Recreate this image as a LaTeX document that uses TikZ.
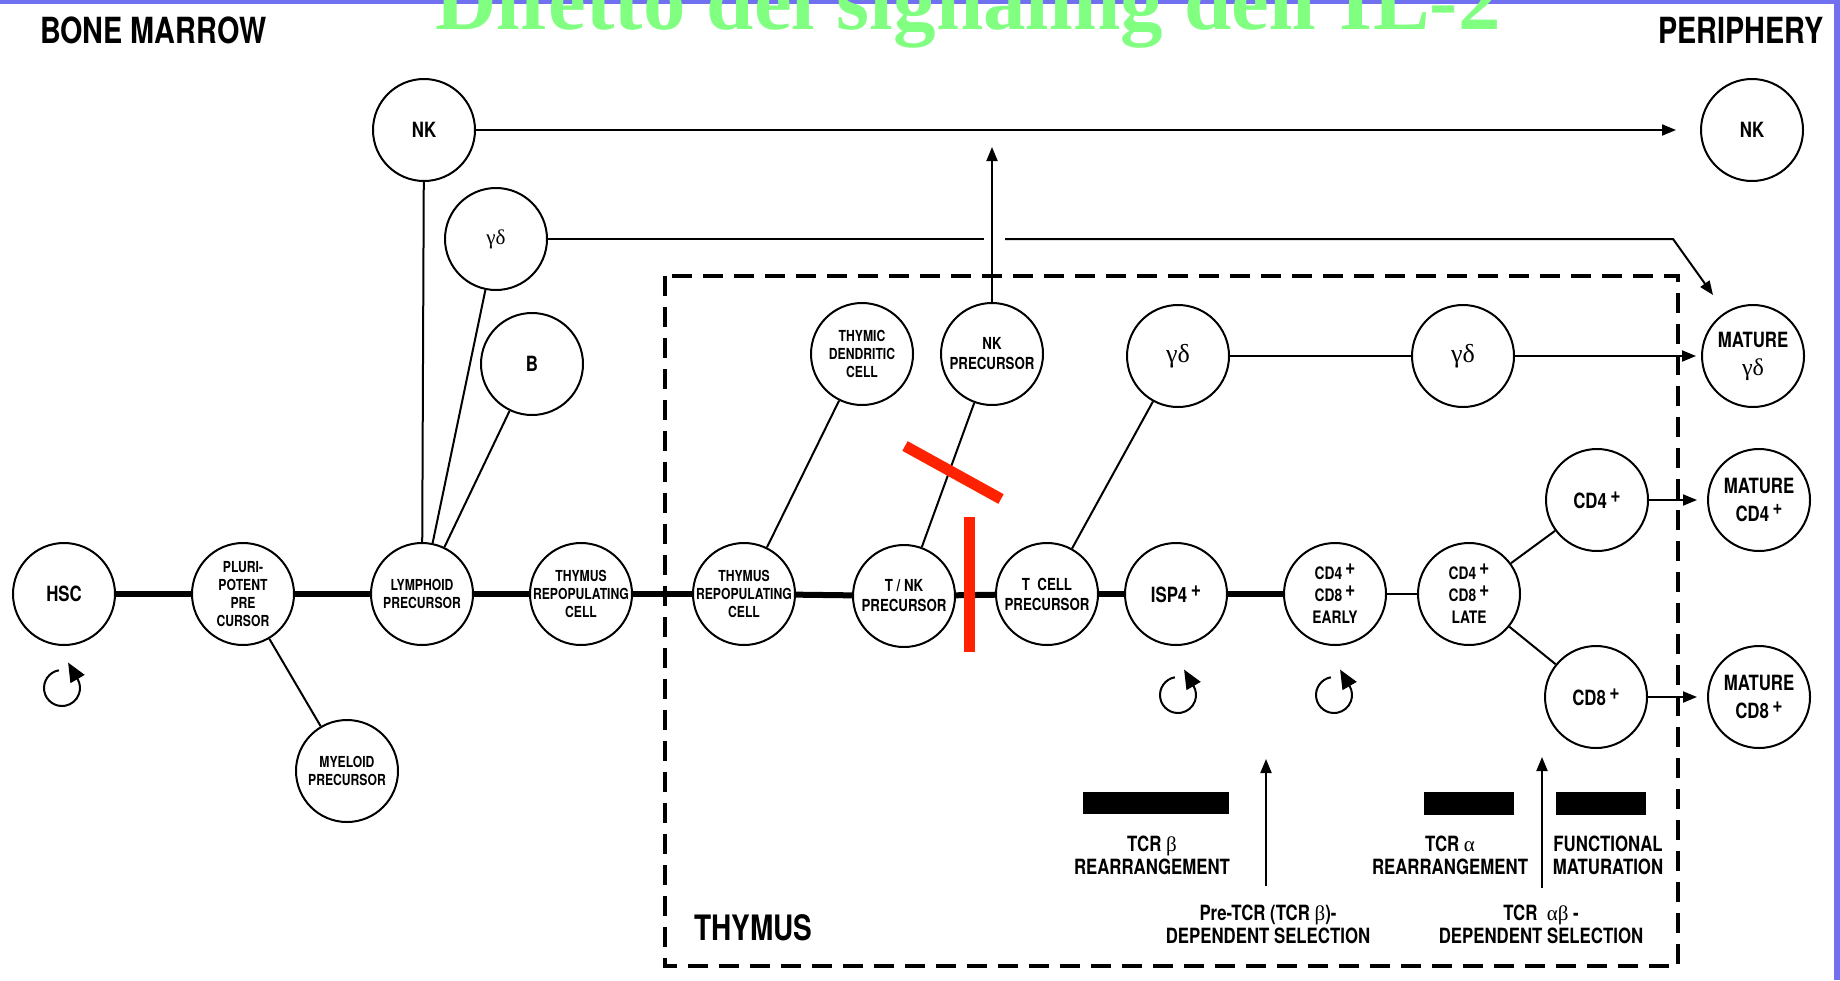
\documentclass[tikz,border=0pt]{standalone}
\usepackage{fontspec}
\setmainfont{TeX Gyre Heros}[FakeStretch=0.8]
\newfontfamily\timesfont{Liberation Serif}
\usetikzlibrary{arrows.meta}
\definecolor{titlegreen}{RGB}{128,255,128}
\definecolor{frameblue}{RGB}{112,112,240}
\definecolor{cutred}{RGB}{255,34,0}
\newcommand{\cellplus}{\,\raisebox{0.6ex}{+}}
\newcommand{\bigplus}{\,\raisebox{0.5ex}{\fontsize{11}{11}\selectfont+}}

\begin{document}
\begin{tikzpicture}[
    x=0.5pt, y=-0.5pt,
    cell/.style={circle, draw, line width=1pt, minimum size=51pt, inner sep=0pt},
    smalltxt/.style={align=center, font=\bfseries\fontsize{7.6}{9}\selectfont},
    medtxt/.style={align=center, font=\bfseries\fontsize{8.3}{10}\selectfont},
    dptxt/.style={align=center, font=\bfseries\fontsize{8.6}{11}\selectfont},
    bigtxt/.style={align=center, font=\bfseries\fontsize{10.5}{14}\selectfont},
    greektxt/.style={font=\timesfont\fontsize{13}{15}\selectfont},
    tagtxt/.style={align=center, font=\bfseries\fontsize{10.5}{11.5}\selectfont},
    trunk/.style={line width=3pt},
    link/.style={line width=1pt},
    arrow/.style={-{Triangle[length=7pt,width=5.5pt]}, line width=1pt},
    selfloop/.style={-{Triangle[length=9.5pt,width=8pt]}, line width=1pt},
    cutbar/.style={cutred, line width=5.5pt},
    thymusbox/.style={line width=2pt, dash pattern=on 10pt off 5.5pt}
]
    \useasboundingbox (0,0) rectangle (1840,980);
    \clip (0,0) rectangle (1840,980);
    \fill[frameblue] (0,0) rectangle (1840,3.5);
    \fill[frameblue] (1834,0) rectangle (1840,980);

    \node[anchor=base, text=titlegreen, font=\timesfont\bfseries\fontsize{42.5}{45}\selectfont] (title) at (968,29) {Difetto del signaling dell'IL-2};
    \node[anchor=base west, font=\bfseries\fontsize{18}{20}\selectfont] (marrow) at (33,43) {BONE MARROW};
    \node[anchor=base east, font=\bfseries\fontsize{18}{20}\selectfont] (periphery) at (1831,43) {PERIPHERY};

    \draw[thymusbox] (665,276) rectangle (1678,966);
    \node[anchor=base west, font=\bfseries\fontsize{17.5}{20}\selectfont] (thymus) at (687,940) {THYMUS};

    \node[cell, label={[bigtxt]center:HSC}] (hsc) at (64,594) {};
    \node[cell, label={[smalltxt]center:PLURI-\\POTENT\\PRE\\CURSOR}] (pluri) at (243,594) {};
    \node[cell, label={[smalltxt]center:LYMPHOID\\PRECURSOR}] (lymph) at (422,594) {};
    \node[cell, label={[smalltxt]center:THYMUS\\REPOPULATING\\CELL}] (thy1) at (581,594) {};
    \node[cell, label={[smalltxt]center:MYELOID\\PRECURSOR}] (myeloid) at (347,771) {};
    \node[cell, label={[bigtxt]center:NK}] (nkbm) at (424,130) {};
    \node[cell, label={[greektxt, font=\timesfont\fontsize{10.5}{12}\selectfont]center:γδ}] (gdbm) at (496,239) {};
    \node[cell, label={[bigtxt]center:B}] (bcell) at (532,364) {};

    \node[cell, label={[smalltxt]center:THYMUS\\REPOPULATING\\CELL}] (thy2) at (744,594) {};
    \node[cell, label={[smalltxt]center:THYMIC\\DENDRITIC\\CELL}] (tdc) at (862,354) {};
    \node[cell, label={[medtxt]center:NK\\PRECURSOR}] (nkp) at (992,354) {};
    \node[cell, label={[medtxt]center:T / NK\\PRECURSOR}] (tnk) at (904,596) {};
    \node[cell, label={[medtxt]center:T\ \ CELL\\PRECURSOR}] (tcp) at (1047,594) {};
    \node[cell, label={[greektxt]center:γδ}] (gd1) at (1178,356) {};
    \node[cell, label={[greektxt]center:γδ}] (gd2) at (1463,356) {};
    \node[cell, label={[bigtxt]center:ISP4\bigplus}] (isp4) at (1176,594) {};
    \node[cell, label={[dptxt]center:CD4\bigplus\\CD8\bigplus\\EARLY}] (early) at (1335,594) {};
    \node[cell, label={[dptxt]center:CD4\bigplus\\CD8\bigplus\\LATE}] (late) at (1469,594) {};
    \node[cell, label={[bigtxt]center:CD4\bigplus}] (cd4) at (1597,500) {};
    \node[cell, label={[bigtxt]center:CD8\bigplus}] (cd8) at (1596,697) {};

    \node[cell, label={[bigtxt]center:NK}] (nkper) at (1752,130) {};
    \node[cell, label={[bigtxt]center:MATURE\\{\timesfont\mdseries\fontsize{12}{12}\selectfont γδ}}] (mgd) at (1753,356) {};
    \node[cell, label={[bigtxt]center:MATURE\\CD4\cellplus}] (mcd4) at (1759,500) {};
    \node[cell, label={[bigtxt]center:MATURE\\CD8\bigplus}] (mcd8) at (1759,697) {};

    \foreach \a/\b in {hsc/pluri, pluri/lymph, lymph/thy1, thy1/thy2, thy2/tnk, tnk/tcp, tcp/isp4, isp4/early}
        \draw[trunk] (\a) -- (\b);
    \draw[link] (early) -- (late);
    \draw[link] (pluri) -- (myeloid);
    \foreach \t in {nkbm, gdbm, bcell}
        \draw[link] (lymph) -- (\t);
    \draw[link] (thy2) -- (tdc);
    \draw[link] (tnk) -- (nkp);
    \draw[link] (tcp) -- (gd1);
    \draw[link] (gd1) -- (gd2);
    \draw[link] (late) -- (cd4);
    \draw[link] (late) -- (cd8);

    \coordinate (nktip) at (992,147);
    \coordinate (hopL) at (984,239);
    \coordinate (hopR) at (1005,239);
    \coordinate (bend) at (1673,239);
    \coordinate (gdtip) at (1713,295);
    \draw[arrow, shorten >=12pt] (nkbm) -- (nkper);
    \draw[arrow] (nkp) -- (nktip);
    \draw[link] (gdbm) -- (hopL);
    \draw[arrow] (hopR) -- (bend) -- (gdtip);
    \draw[arrow, shorten >=2.5pt] (gd2) -- (mgd);
    \foreach \a/\b in {cd4/mcd4, cd8/mcd8}
        \draw[arrow, shorten >=5pt] (\a) -- (\b);

    \foreach \x/\y in {62/688, 1178/695, 1334/695}
        \draw[selfloop, shift={(\x,\y)}, y=0.5pt] (100:18) arc[start angle=100, end angle=390, radius=18] -- ++(120:19);

    \draw[cutbar] (905,446) -- (1001,499);
    \draw[cutbar] (969,517) -- (969,652);

    \fill (1083,792) rectangle (1229,814);
    \fill (1424,792) rectangle (1514,815);
    \fill (1556,792) rectangle (1646,815);
    \node[tagtxt] (tcrb) at (1152,855) {TCR {\timesfont\mdseries β}\\REARRANGEMENT};
    \node[tagtxt] (tcra) at (1450,855) {TCR {\timesfont\mdseries α}\\REARRANGEMENT};
    \node[tagtxt] (func) at (1608,855) {FUNCTIONAL\\MATURATION};
    \node[tagtxt] (pretcr) at (1268,924) {Pre-TCR (TCR {\timesfont\mdseries β})-\\DEPENDENT SELECTION};
    \node[tagtxt] (tcrab) at (1541,924) {TCR\ \ {\timesfont\mdseries αβ} -\\DEPENDENT SELECTION};

    \coordinate (pre1) at (1266,886);
    \coordinate (pre2) at (1266,759);
    \coordinate (ab1) at (1542,888);
    \coordinate (ab2) at (1542,757);
    \draw[arrow] (pre1) -- (pre2);
    \draw[arrow] (ab1) -- (ab2);
\end{tikzpicture}
\end{document}
